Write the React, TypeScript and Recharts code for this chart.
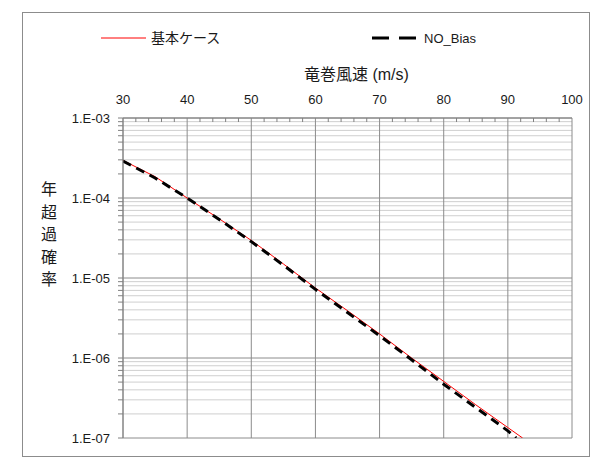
import React from 'react';
import { LineChart, Line, XAxis, YAxis, CartesianGrid } from 'recharts';

// 竜巻風速 (m/s)
const baseSpeeds = [30, 35, 40, 45, 50, 55, 60, 65, 70, 75, 80, 85, 90, 92.3];
const baseProb = [2.95e-4, 1.85e-4, 1.0e-4, 5.5e-5, 2.95e-5, 1.5e-5, 7.5e-6, 3.9e-6, 2.0e-6, 1.0e-6, 5.1e-7, 2.6e-7, 1.35e-7, 1e-7];

const noBiasSpeeds = [30, 35, 40, 45, 50, 55, 60, 65, 70, 75, 80, 85, 90, 91.3];
const noBiasProb = [2.9e-4, 1.78e-4, 1.0e-4, 5.4e-5, 2.85e-5, 1.45e-5, 7.2e-6, 3.7e-6, 1.9e-6, 9.5e-7, 4.7e-7, 2.4e-7, 1.23e-7, 1e-7];

const xTicks = [30, 32, 34, 36, 38, 40, 42, 44, 46, 48, 50, 52, 54, 56, 58, 60, 62, 64, 66, 68, 70, 72, 74, 76, 78, 80, 82, 84, 86, 88, 90, 92, 94, 96, 98, 100];
const xMajor = [30, 40, 50, 60, 70, 80, 90, 100];
const decades = [1e-7, 1e-6, 1e-5, 1e-4, 1e-3];
const decadeLabels = ['1.E-07', '1.E-06', '1.E-05', '1.E-04', '1.E-03'];
const minorSteps = [2, 3, 4, 5, 6, 7, 8, 9];

const minorY: number[] = [];
decades.slice(0, 4).forEach((d) => minorSteps.forEach((m) => minorY.push(m * d)));
const yTicks = [...decades, ...minorY].sort((a, b) => a - b);

const baseData = baseSpeeds.map((v, i) => ({ v, p: baseProb[i] }));
const noBiasData = noBiasSpeeds.map((v, i) => ({ v, p: noBiasProb[i] }));

const FONT = "'Liberation Sans', 'Noto Sans CJK JP', sans-serif";

const TopTick = (props: any) => {
  const { x, y, payload } = props;
  const val = payload.value;
  if (xMajor.includes(val)) {
    return (
      <text x={x} y={y - 14} textAnchor="middle" fontSize={13} fill="#1a1a1a" fontFamily={FONT}>
        {val}
      </text>
    );
  }
  return <line x1={x} x2={x} y1={y} y2={y + 4} stroke="#808080" strokeWidth={1} />;
};

const formatY = (v: number) => {
  const i = decades.findIndex((d) => Math.abs(d - v) / d < 1e-6);
  return i >= 0 ? decadeLabels[i] : '';
};

export default function App() {
  return (
    <div style={{ position: 'fixed', left: 0, top: 0, width: 605, height: 462, background: '#fff', fontFamily: FONT }}>
      <div style={{ position: 'absolute', left: 22, top: 12, width: 566, height: 443, border: '1px solid #8c8c8c' }} />

      {/* 凡例 */}
      <svg style={{ position: 'absolute', left: 0, top: 24 }} width={605} height={30}>
        <line x1={101} x2={146} y1={14} y2={14} stroke="#ff0000" strokeWidth={1} />
        <text x={151} y={19} fontSize={14} fill="#1a1a1a" fontFamily={FONT}>基本ケース</text>
        <line x1={372} x2={416} y1={14} y2={14} stroke="#000" strokeWidth={3} strokeDasharray="17 10" />
        <text x={424} y={19} fontSize={13} fill="#1a1a1a" fontFamily={FONT}>NO_Bias</text>
      </svg>

      <div style={{ position: 'absolute', left: 304, top: 64, fontSize: 16, color: '#1a1a1a', whiteSpace: 'nowrap', lineHeight: '22px' }}>
        竜巻風速 (m/s)
      </div>

      <div style={{ position: 'absolute', left: 41, top: 179, width: 16, fontSize: 16, lineHeight: '22.5px', color: '#1a1a1a', textAlign: 'center' }}>
        {'年超過確率'.split('').map((c, i) => (
          <div key={i}>{c}</div>
        ))}
      </div>

      <div style={{ position: 'absolute', left: 0, top: 0 }}>
        <LineChart width={605} height={462} margin={{ top: 88, right: 33, bottom: 24, left: 58 }}>
          <CartesianGrid horizontalValues={minorY} vertical={false} stroke="#cfcfcf" />
          <CartesianGrid horizontalValues={decades} verticalValues={xMajor} stroke="#8c8c8c" />
          <XAxis
            dataKey="v"
            type="number"
            orientation="top"
            domain={[30, 100]}
            ticks={xTicks}
            interval={0}
            height={30}
            tickSize={0}
            tickMargin={0}
            tickLine={false}
            tick={<TopTick />}
            axisLine={{ stroke: '#808080' }}
            allowDataOverflow
          />
          <YAxis
            type="number"
            scale="log"
            domain={[1e-7, 1e-3]}
            ticks={yTicks}
            interval={0}
            width={65}
            tickSize={5}
            tickMargin={8}
            tickFormatter={formatY}
            tick={{ fontSize: 13, fill: '#1a1a1a', fontFamily: FONT }}
            tickLine={{ stroke: '#808080' }}
            axisLine={{ stroke: '#808080' }}
            allowDataOverflow
          />
          <Line
            data={baseData}
            dataKey="p"
            type="linear"
            stroke="#ff0000"
            strokeWidth={1}
            dot={false}
            isAnimationActive={false}
          />
          <Line
            data={noBiasData}
            dataKey="p"
            type="linear"
            stroke="#000000"
            strokeWidth={3}
            strokeDasharray="9 6"
            dot={false}
            isAnimationActive={false}
          />
        </LineChart>
      </div>
    </div>
  );
}
